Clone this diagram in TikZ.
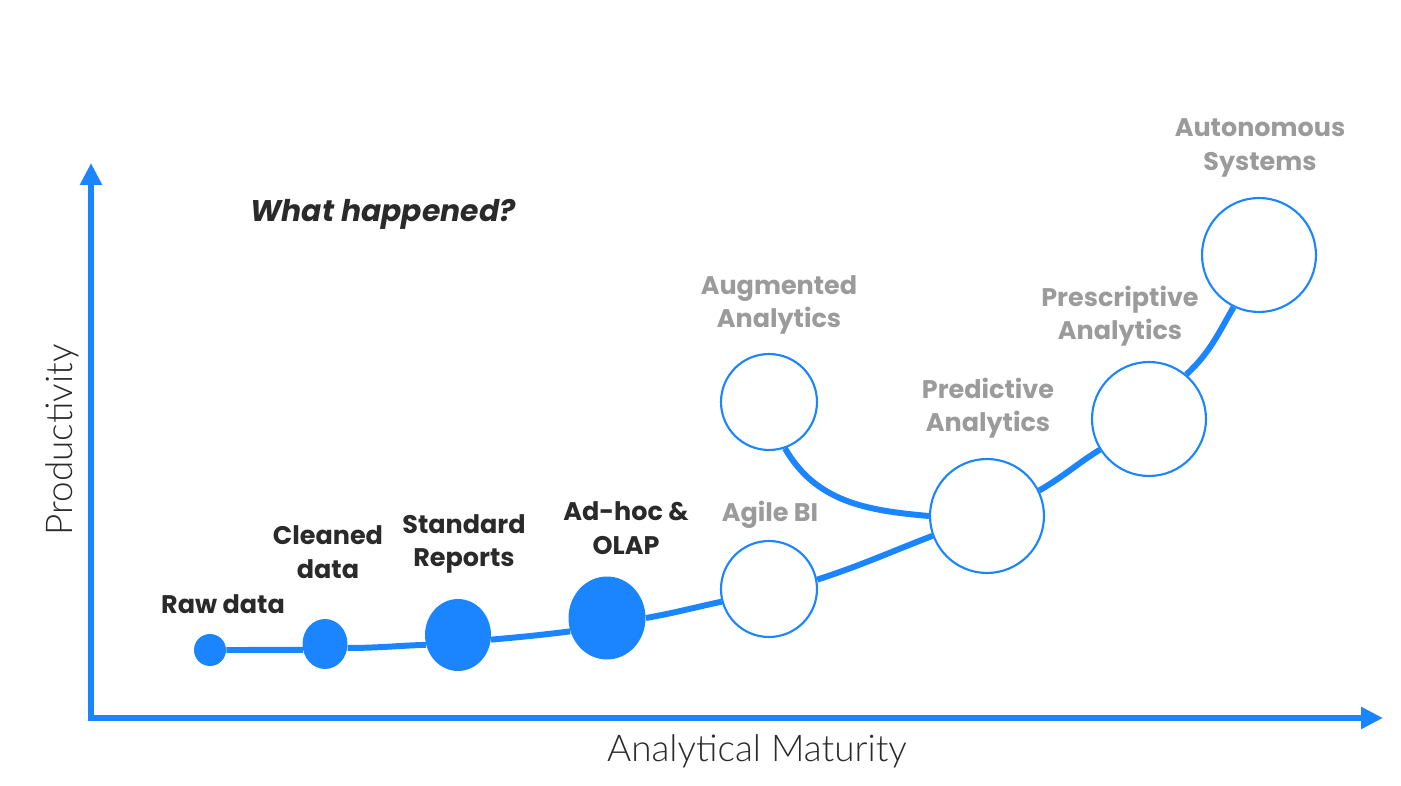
\documentclass[tikz,border=0pt]{standalone}
\usepackage{fontspec}
\setmainfont{Lato}
\newfontfamily\lightfont{Lato Light}
\newfontfamily\labelfont{Poppins}
\usetikzlibrary{arrows.meta, shapes.geometric, backgrounds}

\definecolor{trackblue}{HTML}{1B85FF}
\definecolor{darktext}{HTML}{2A2A2A}
\definecolor{greytext}{HTML}{9B9B9B}

\begin{document}
\begin{tikzpicture}[
    x=0.02cm, y=-0.02cm,
    axis/.style={
        line width=0.12cm,
        draw=trackblue,
        {Triangle[length=0.44cm, width=0.42cm]}-{Triangle[length=0.44cm, width=0.42cm]}
    },
    done/.style={
        ellipse,
        fill=trackblue,
        inner sep=0pt
    },
    todo/.style={
        circle,
        draw=trackblue,
        line width=1.2pt,
        fill=white,
        inner sep=0pt
    },
    track/.style={
        draw=trackblue,
        line width=3.4pt
    },
    past label/.style={
        text=darktext,
        align=center,
        font=\labelfont\bfseries\fontsize{14.5}{19}\selectfont
    },
    future label/.style={
        text=greytext,
        align=center,
        font=\labelfont\bfseries\fontsize{14.5}{19}\selectfont
    },
    axis label/.style={
        text=darktext,
        font=\lightfont\fontsize{21}{25}\selectfont
    }
]
    \useasboundingbox (0,0) rectangle (1401,786);

    % Axes
    \coordinate (ytop) at (91,163);
    \coordinate (xend) at (1383,718);
    \draw[axis] (ytop) |- (xend);
    \node[axis label] (xlabel) at (757,751) {Analytical Maturity};
    \node[axis label, rotate=90] (ylabel) at (62,440) {Productivity};

    \node[text=darktext, font=\labelfont\bfseries\itshape\fontsize{17}{21}\selectfont] (question) at (383,214) {What happened?};

    % Stages reached
    \node[done, minimum width=0.64cm, minimum height=0.64cm] (raw) at (210,650) {};
    \node[done, minimum width=0.90cm, minimum height=1.00cm] (cleaned) at (325,644) {};
    \node[done, minimum width=1.32cm, minimum height=1.44cm] (standard) at (458,635) {};
    \node[done, minimum width=1.54cm, minimum height=1.66cm] (adhoc) at (607,618) {};

    % Stages ahead
    \node[todo, minimum size=1.92cm] (agile) at (769,589) {};
    \node[todo, minimum size=1.92cm] (augmented) at (769,402) {};
    \node[todo, minimum size=2.28cm] (predictive) at (987,516) {};
    \node[todo, minimum size=2.28cm] (prescriptive) at (1149,419) {};
    \node[todo, minimum size=2.28cm] (autonomous) at (1259,255) {};

    % Labels
    \node[past label] (rawlbl) at (223,604) {Raw data};
    \node[past label] (cleanedlbl) at (328,552) {Cleaned\\data};
    \node[past label] (standardlbl) at (464,544) {Standard\\Reports};
    \node[past label] (adhoclbl) at (626,528) {Ad-hoc \&\\OLAP};
    \node[future label] (agilelbl) at (770,515) {Agile BI};
    \node[future label] (augmentedlbl) at (779,305) {Augmented\\Analytics};
    \node[future label] (predictivelbl) at (988,408) {Predictive\\Analytics};
    \node[future label] (prescriptivelbl) at (1120,316) {Prescriptive\\Analytics};
    \node[future label] (autonomouslbl) at (1260,148) {Autonomous\\Systems};

    % Maturity track
    \begin{scope}[on background layer]
        \draw[track] (raw.east) to[out=0, in=180] (cleaned.195);
        \draw[track] (cleaned.-10) to[out=0, in=182] (standard.197);
        \draw[track] (standard.-8) to[out=5, in=187] (adhoc.200);
        \draw[track] (adhoc.east) to[out=10, in=192] (agile.195);
        \draw[track] (agile.11) to[out=18, in=201] (predictive.200);
        \draw[track] (predictive.26) to[out=30, in=212] (prescriptive.212);
        \draw[track] (prescriptive.50) to[out=43, in=240] (autonomous.244);
        \draw[track] (augmented.-71) to[out=-60, in=175] (predictive.west);
    \end{scope}

\end{tikzpicture}
\end{document}
